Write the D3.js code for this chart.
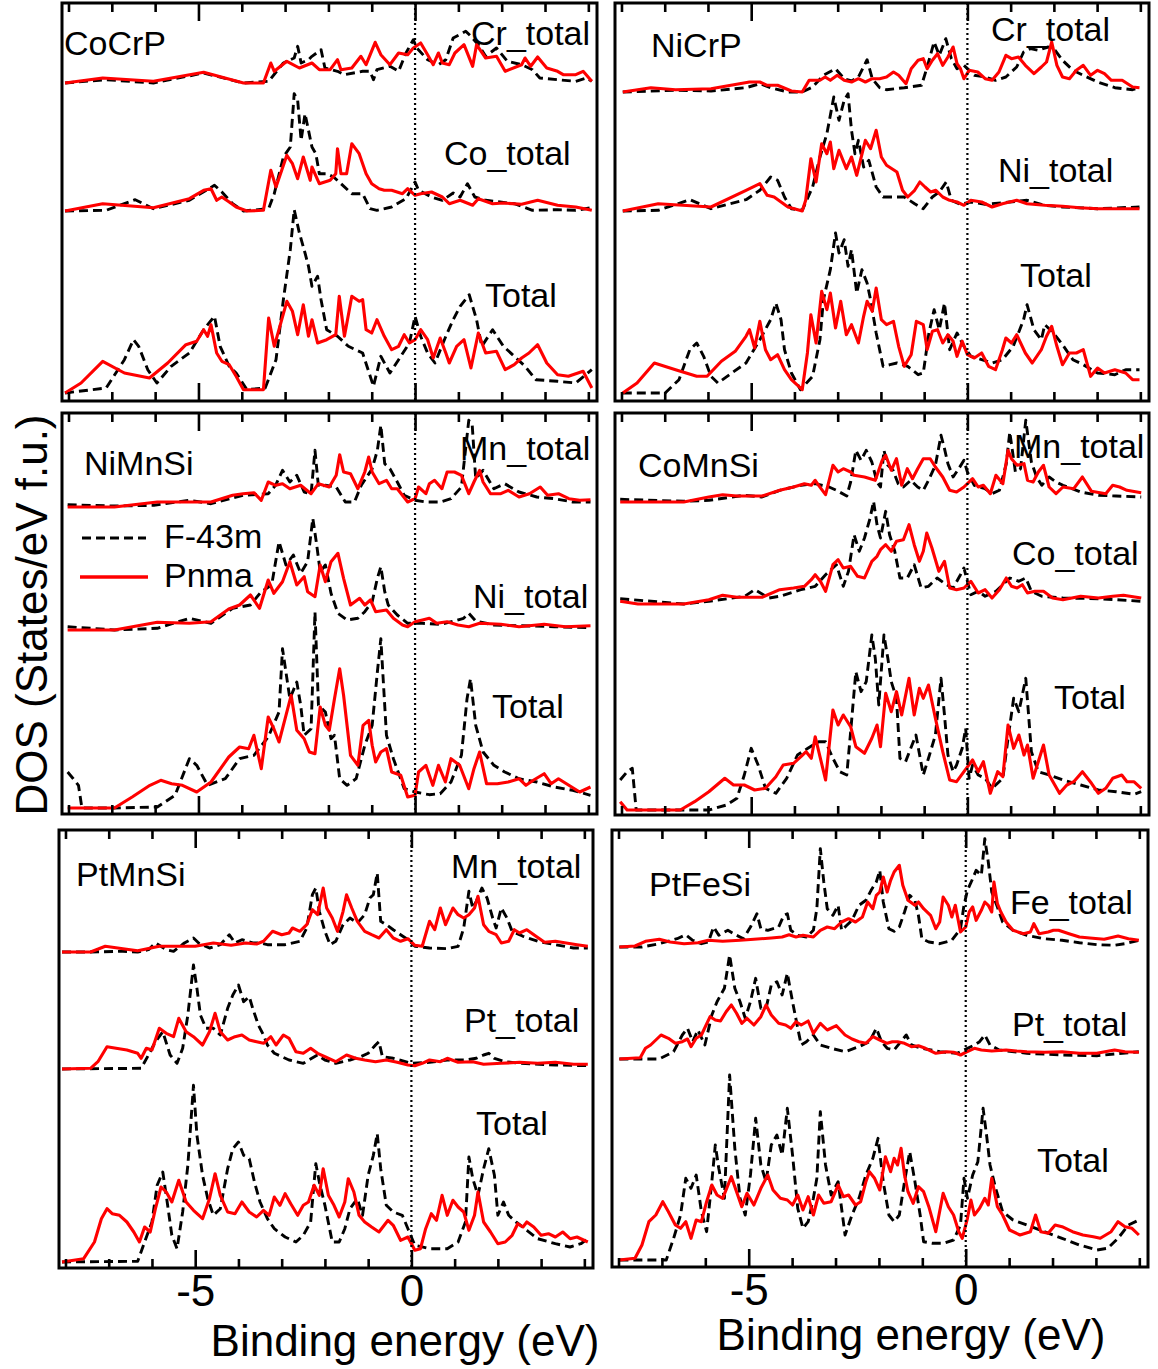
<!DOCTYPE html>
<html>
<head>
<meta charset="utf-8">
<script src="https://cdn.jsdelivr.net/npm/d3@7"></script>
<style>
  html, body { margin: 0; padding: 0; background: #fff; }
  svg { display: block; font-family: "Liberation Sans", Arial, Helvetica, sans-serif; }
</style>
</head>
<body>
<svg id="chart" width="1158" height="1369"></svg>
<script>
// ---------------------------------------------------------------
// Density of states, F-43m (cubic) vs Pnma (orthorhombic) phases.
// Each curve: [binding energy (eV), DOS (states/eV f.u.)] pairs.
// Curves are stacked inside a panel with the offsets listed below.
// ---------------------------------------------------------------
const seriesNames = ["F-43m", "Pnma"];
const energyTicks = [-8, -7, -6, -5, -4, -3, -2, -1, 0, 1, 2, 3, 4];
const energyTickLabels = [-5, 0];
const compounds = ["CoCrP", "NiCrP", "NiMnSi", "CoMnSi", "PtMnSi", "PtFeSi"];

// ---- CoCrP ----
const cocrpLabels = ["Cr_total", "Co_total", "Total"];
const cocrpOffsets = [31.8, 19.0, 0.8];
const cocrp_cr_f = [[-8.08,0],[-7.13,0.33],[-6.04,0],[-4.88,1.0],[-3.96,0],[-3.38,0.17],[-3.04,2.0],[-2.79,2.5],[-2.71,3.67],[-2.63,2.0],[-2.46,2.33],[-2.38,2.67],[-2.17,3.33],[-2.08,1.5],[-1.79,1.17],[-1.63,0.83],[-1.21,1.17],[-1.04,1.17],[-0.96,0.33],[-0.88,1.33],[-0.58,1.67],[-0.38,1.17],[-0.21,3.0],[-0.04,4.33],[0.04,3.5],[0.29,2.33],[0.54,1.83],[0.71,2.33],[0.88,4.5],[1.17,5.17],[1.29,4.67],[1.46,3.83],[1.63,2.67],[1.88,3.5],[2.13,2.17],[2.46,1.83],[2.71,1.33],[2.88,0.5],[3.29,0.33],[3.71,0.17],[3.96,0.5],[4.08,0.17]];
const cocrp_cr_p = [[-8.08,0],[-7.21,0.5],[-6.04,0.17],[-4.88,1.07],[-3.96,0],[-3.5,0],[-3.33,2.0],[-3.25,1.17],[-2.96,2.17],[-2.67,1.5],[-2.38,2.0],[-2.21,1.33],[-1.96,1.33],[-1.79,2.33],[-1.71,1.33],[-1.46,1.5],[-1.25,2.67],[-1.13,1.83],[-0.92,4.07],[-0.79,2.83],[-0.58,1.83],[-0.38,3.0],[-0.17,2.83],[-0.04,3.5],[0.13,4.0],[0.29,2.83],[0.42,1.83],[0.54,3.0],[0.63,2.0],[0.79,1.83],[0.92,3.0],[1.13,3.83],[1.33,1.67],[1.42,3.83],[1.63,2.5],[1.88,2.67],[2.08,1.17],[2.46,1.83],[2.54,2.5],[2.67,1.67],[2.83,2.6],[3.04,1.5],[3.29,1.17],[3.42,0.83],[3.71,0.83],[3.88,1.17],[4.08,0.17]];
const cocrp_co_f = [[-8.08,0],[-7.13,0.07],[-6.46,1.13],[-6.04,0.23],[-5.21,1.07],[-4.63,2.57],[-4.46,1.9],[-4.21,0.73],[-3.96,0],[-3.38,0.23],[-3.25,1.73],[-3.04,5.4],[-2.88,6.4],[-2.79,11.73],[-2.71,11.07],[-2.63,7.07],[-2.54,9.73],[-2.46,8.07],[-2.38,6.4],[-2.29,5.73],[-2.21,3.73],[-2.04,3.73],[-1.88,3.4],[-1.71,2.73],[-1.46,1.73],[-1.21,1.73],[-1.04,0.23],[-0.88,0.07],[-0.54,0.4],[-0.21,1.23],[0,2.9],[0.08,2.07],[0.38,1.4],[0.63,1.07],[0.88,1.8],[1.04,1.4],[1.21,2.73],[1.38,1.4],[1.63,1.07],[1.96,0.9],[2.29,0.73],[2.71,0.07],[3.29,0.13],[3.71,0.07],[4.08,0.33]];
const cocrp_co_p = [[-8.08,0],[-7.21,0.73],[-6.04,0.33],[-5.21,1.23],[-4.88,2.07],[-4.71,2.23],[-4.58,1.07],[-4.46,1.4],[-4.29,0.9],[-4.13,0.4],[-3.88,0],[-3.5,0.07],[-3.33,4.07],[-3.21,2.4],[-2.96,5.57],[-2.83,4.73],[-2.71,3.23],[-2.58,5.4],[-2.42,3.07],[-2.38,4.4],[-2.21,2.73],[-1.96,3.07],[-1.83,3.73],[-1.79,6.23],[-1.71,3.73],[-1.58,3.73],[-1.46,6.73],[-1.29,5.73],[-1.13,3.73],[-1.0,2.73],[-0.83,2.23],[-0.71,2.07],[-0.54,2.07],[-0.29,1.73],[-0.17,2.23],[0,1.57],[0.13,1.73],[0.38,1.9],[0.63,1.4],[0.79,0.73],[1.04,1.07],[1.33,0.57],[1.46,1.23],[1.79,0.73],[2.04,0.8],[2.46,0.67],[2.83,1.07],[3.29,0.57],[3.71,0.4],[4.08,0.07]];
const cocrp_tot_f = [[-8.08,0],[-7.13,0.5],[-6.71,3.33],[-6.5,5.33],[-6.38,4.67],[-6.17,2.33],[-5.96,1.0],[-5.63,2.67],[-5.21,4.0],[-4.88,6.33],[-4.63,7.67],[-4.5,4.67],[-4.29,2.67],[-4.13,2.0],[-3.88,0.33],[-3.46,0.5],[-3.21,3.33],[-3.04,9.33],[-2.88,14.33],[-2.79,18.33],[-2.67,16.0],[-2.54,14.0],[-2.46,12.67],[-2.38,10.67],[-2.25,11.67],[-2.17,9.33],[-2.04,6.33],[-1.79,5.67],[-1.54,4.67],[-1.21,4.0],[-0.96,0.67],[-0.79,3.67],[-0.58,2.0],[-0.38,3.33],[-0.13,5.0],[0,7.67],[0.13,5.67],[0.29,4.0],[0.46,3.0],[0.71,5.67],[0.88,7.33],[1.04,8.67],[1.25,9.83],[1.42,7.33],[1.54,4.67],[1.79,6.33],[2.04,4.67],[2.29,3.67],[2.54,2.67],[2.79,1.33],[3.29,1.17],[3.71,1.0],[4.08,2.33]];
const cocrp_tot_p = [[-8.08,0],[-7.71,1.0],[-7.21,3.17],[-6.71,2.0],[-6.13,1.5],[-5.71,3.0],[-5.29,4.83],[-5.04,5.17],[-4.88,6.33],[-4.79,5.67],[-4.71,6.83],[-4.58,4.0],[-4.46,3.17],[-4.29,2.83],[-4.13,1.67],[-3.96,0.33],[-3.5,0.33],[-3.38,7.5],[-3.25,4.67],[-2.96,9.17],[-2.83,8.17],[-2.71,5.83],[-2.58,8.83],[-2.46,5.67],[-2.38,7.33],[-2.25,5.0],[-2.04,5.33],[-1.83,5.83],[-1.75,9.67],[-1.63,5.67],[-1.46,9.67],[-1.29,9.17],[-1.21,9.33],[-1.13,6.33],[-1.0,6.0],[-0.88,7.33],[-0.71,5.67],[-0.54,4.33],[-0.38,4.67],[-0.25,5.83],[-0.13,5.0],[0,5.33],[0.13,6.33],[0.29,5.33],[0.42,3.5],[0.58,5.5],[0.71,4.0],[0.79,3.0],[0.96,4.67],[1.13,5.33],[1.29,2.5],[1.46,6.0],[1.63,4.0],[1.88,4.17],[2.08,2.33],[2.29,2.83],[2.46,3.5],[2.63,4.0],[2.83,4.83],[3.04,3.0],[3.29,1.83],[3.54,1.67],[3.88,2.17],[4.08,0.5]];

// ---- NiCrP ----
const nicrpLabels = ["Cr_total", "Ni_total", "Total"];
const nicrpOffsets = [30.9, 19.0, 0.8];
const nicrp_cr_f = [[-7.97,0],[-6.75,0.17],[-5.93,0.1],[-5.12,0.43],[-4.8,0.83],[-4.55,0.43],[-4.15,0],[-3.82,0],[-3.58,0.5],[-3.33,1.67],[-3.05,2.33],[-2.85,1.33],[-2.68,1.1],[-2.52,1.5],[-2.32,3.23],[-2.2,1.33],[-2.03,0.43],[-1.87,0.23],[-1.46,0.43],[-1.06,0.67],[-0.93,2.5],[-0.77,5.0],[-0.65,3.67],[-0.5,5.33],[-0.37,3.33],[-0.24,2.33],[-0.08,2.67],[0.16,1.67],[0.41,1.5],[0.65,1.17],[0.89,1.5],[1.14,2.5],[1.3,4.0],[1.46,4.33],[1.63,4.17],[1.87,4.5],[2.03,4.17],[2.2,3.17],[2.44,2.17],[2.68,1.67],[3.01,1.0],[3.41,0.43],[3.82,0.23],[3.98,0.43]];
const nicrp_cr_p = [[-7.97,0],[-7.32,0.43],[-6.75,0.23],[-5.93,0.33],[-5.04,1.0],[-4.8,1.0],[-4.63,0.67],[-4.39,0.67],[-4.07,0.1],[-3.82,0],[-3.66,1.17],[-3.41,1.17],[-3.29,1.5],[-3.17,1.17],[-3.01,1.67],[-2.85,1.17],[-2.68,1.0],[-2.52,1.33],[-2.36,1.0],[-2.2,1.33],[-2.03,1.33],[-1.87,1.5],[-1.71,2.0],[-1.59,1.67],[-1.42,0.83],[-1.3,2.33],[-1.14,3.17],[-1.02,3.33],[-0.93,2.33],[-0.81,3.17],[-0.69,3.83],[-0.57,2.67],[-0.45,3.5],[-0.33,4.5],[-0.24,2.83],[-0.16,2.33],[-0.08,1.33],[0.04,2.17],[0.24,2.0],[0.41,1.33],[0.57,1.17],[0.73,2.0],[0.89,3.67],[1.02,3.33],[1.18,3.5],[1.34,2.67],[1.54,1.83],[1.71,2.5],[1.83,3.0],[1.95,5.0],[2.07,2.67],[2.2,1.5],[2.36,1.33],[2.52,2.17],[2.68,2.67],[2.85,1.67],[3.01,2.17],[3.17,1.83],[3.33,1.17],[3.58,1.17],[3.82,0.5],[3.98,0.43]];
const nicrp_ni_f = [[-7.97,0],[-7.15,0.07],[-6.42,1.13],[-5.93,0.23],[-5.12,1.13],[-4.8,2.07],[-4.55,3.4],[-4.39,3.07],[-4.23,1.4],[-4.07,0.23],[-3.82,0.07],[-3.58,2.4],[-3.41,5.4],[-3.25,7.73],[-3.09,11.4],[-2.97,9.07],[-2.85,11.07],[-2.76,11.73],[-2.68,8.07],[-2.6,5.73],[-2.52,7.07],[-2.4,4.4],[-2.28,5.07],[-2.11,2.4],[-1.95,1.4],[-1.71,1.4],[-1.46,1.4],[-1.22,0.73],[-1.02,0.23],[-0.81,1.4],[-0.65,1.9],[-0.49,2.9],[-0.37,1.07],[-0.16,0.67],[0.08,0.9],[0.41,0.67],[0.98,0.9],[1.38,1.07],[1.79,0.57],[2.2,0.4],[3.01,0.23],[3.98,0.4]];
const nicrp_ni_p = [[-7.97,0],[-7.15,0.73],[-5.93,0.4],[-5.12,2.07],[-4.8,2.73],[-4.63,1.57],[-4.47,1.4],[-4.15,0.4],[-3.82,0],[-3.74,1.07],[-3.62,5.23],[-3.5,2.9],[-3.37,6.73],[-3.25,5.73],[-3.17,6.9],[-3.09,4.23],[-2.97,6.07],[-2.8,4.23],[-2.68,5.4],[-2.56,3.57],[-2.36,7.07],[-2.24,6.23],[-2.11,8.07],[-1.99,5.4],[-1.87,4.57],[-1.63,3.9],[-1.5,2.07],[-1.38,1.4],[-1.22,2.07],[-1.1,2.9],[-0.98,2.4],[-0.85,1.9],[-0.73,2.07],[-0.57,1.4],[-0.41,1.07],[-0.24,0.9],[-0.08,0.57],[0.08,1.07],[0.33,0.9],[0.57,0.4],[0.81,0.73],[1.14,1.07],[1.38,0.73],[1.79,0.57],[2.2,0.47],[2.6,0.33],[3.01,0.23],[3.5,0.23],[3.98,0.23]];
const nicrp_tot_f = [[-7.97,0],[-6.99,0],[-6.67,1.33],[-6.42,4.33],[-6.26,5.0],[-6.1,3.67],[-5.93,1.67],[-5.77,1.0],[-5.45,2.0],[-5.12,3.0],[-4.8,5.33],[-4.55,7.33],[-4.43,9.0],[-4.31,7.33],[-4.23,4.33],[-4.07,2.0],[-3.86,0.33],[-3.58,1.67],[-3.41,5.33],[-3.33,9.33],[-3.17,12.33],[-3.05,16.0],[-2.97,14.0],[-2.85,15.33],[-2.76,12.67],[-2.68,14.33],[-2.56,10.0],[-2.44,12.33],[-2.32,11.0],[-2.24,9.33],[-2.11,6.0],[-1.95,2.67],[-1.79,2.83],[-1.63,3.0],[-1.38,2.67],[-1.14,1.83],[-1.02,2.0],[-0.89,6.0],[-0.77,8.33],[-0.65,6.33],[-0.53,9.0],[-0.41,4.33],[-0.24,6.0],[-0.08,4.67],[0.08,3.67],[0.33,3.33],[0.57,3.0],[0.81,3.33],[1.06,4.67],[1.3,7.33],[1.38,8.83],[1.54,6.33],[1.71,5.33],[1.79,6.83],[1.99,6.0],[2.2,4.83],[2.44,3.33],[2.68,2.83],[3.01,2.0],[3.41,1.83],[3.66,2.33],[3.98,2.33]];
const nicrp_tot_p = [[-7.97,0],[-7.64,1.0],[-7.24,3.0],[-6.75,2.33],[-6.26,1.67],[-6.02,1.67],[-5.69,3.17],[-5.37,4.17],[-5.12,5.67],[-5.04,6.33],[-4.92,4.5],[-4.8,7.17],[-4.67,4.33],[-4.55,3.33],[-4.39,3.83],[-4.23,2.33],[-4.07,1.33],[-3.82,0.33],[-3.7,4.0],[-3.62,7.83],[-3.5,5.0],[-3.37,10.17],[-3.25,8.33],[-3.17,10.0],[-3.05,6.5],[-2.93,9.17],[-2.8,5.83],[-2.68,6.83],[-2.52,5.0],[-2.4,7.67],[-2.32,9.17],[-2.2,8.17],[-2.11,10.5],[-1.99,7.33],[-1.87,6.83],[-1.71,7.17],[-1.59,4.67],[-1.46,2.67],[-1.3,3.83],[-1.18,7.17],[-1.02,6.83],[-0.93,4.33],[-0.81,6.17],[-0.69,6.33],[-0.57,5.0],[-0.45,5.83],[-0.33,5.17],[-0.24,3.67],[-0.12,5.17],[0,3.83],[0.16,3.5],[0.33,4.0],[0.49,2.67],[0.65,2.33],[0.81,4.33],[0.89,5.5],[1.02,5.0],[1.14,5.83],[1.34,4.0],[1.5,3.0],[1.71,4.33],[1.83,5.67],[1.95,6.67],[2.07,4.67],[2.2,2.83],[2.36,4.0],[2.52,4.0],[2.68,4.33],[2.85,1.67],[3.01,2.5],[3.17,2.0],[3.41,2.33],[3.66,2.0],[3.82,1.33],[3.98,1.33]];

// ---- NiMnSi ----
const nimnsiLabels = ["Mn_total", "Ni_total", "Total"];
const nimnsiOffsets = [30.7, 18.4, 0.6];
const nimnsi_mn_f = [[-8.02,0.23],[-6.94,0.1],[-6.03,0.17],[-5.21,0.67],[-4.71,0.33],[-3.97,1.17],[-3.39,1.33],[-3.22,2.17],[-3.06,3.67],[-2.89,2.5],[-2.73,3.17],[-2.56,1.5],[-2.4,1.33],[-2.31,5.67],[-2.23,2.0],[-2.07,2.17],[-1.82,2.0],[-1.61,0.5],[-1.4,0.5],[-1.24,2.17],[-0.99,3.83],[-0.87,5.67],[-0.79,8.17],[-0.7,4.33],[-0.58,3.83],[-0.41,2.5],[-0.25,1.17],[0,0.67],[0.25,0.5],[0.58,0.5],[0.83,0.83],[1.07,2.0],[1.24,8.67],[1.32,8.17],[1.4,2.83],[1.57,3.67],[1.82,1.83],[2.07,2.33],[2.4,1.5],[2.81,1.0],[3.22,0.83],[3.64,0.5],[4.05,0.5]];
const nimnsi_mn_p = [[-8.02,0],[-6.94,0],[-5.95,0.5],[-5.21,0.5],[-4.71,0.5],[-4.21,1.17],[-3.97,1.33],[-3.72,1.43],[-3.55,0.67],[-3.39,2.5],[-3.22,2.17],[-3.06,2.33],[-2.89,1.83],[-2.64,2.17],[-2.4,1.33],[-2.23,2.33],[-1.98,2.0],[-1.82,3.17],[-1.74,5.23],[-1.65,3.5],[-1.49,3.33],[-1.32,1.83],[-1.16,3.5],[-1.07,5.0],[-0.99,3.5],[-0.83,2.33],[-0.66,2.67],[-0.54,1.83],[-0.41,1.83],[-0.17,0.5],[0,0.83],[0.08,2.0],[0.25,1.33],[0.33,2.33],[0.45,2.67],[0.62,1.83],[0.74,3.5],[0.91,3.5],[1.07,3.17],[1.24,1.33],[1.36,2.5],[1.49,3.67],[1.57,2.5],[1.74,1.33],[1.98,1.33],[2.15,1.67],[2.4,1.0],[2.64,1.33],[2.89,2.0],[3.06,1.17],[3.31,1.33],[3.55,0.83],[3.8,0.67],[4.05,0.73]];
const nimnsi_ni_f = [[-8.02,0.33],[-6.94,0],[-5.95,0.17],[-5.21,1.17],[-4.71,0.67],[-4.21,2.17],[-3.8,2.5],[-3.55,3.83],[-3.31,4.5],[-3.14,8.83],[-2.98,6.5],[-2.81,7.5],[-2.64,5.67],[-2.48,6.83],[-2.36,11.17],[-2.27,8.5],[-2.19,5.83],[-2.07,6.5],[-1.94,3.67],[-1.78,1.67],[-1.57,1.0],[-1.32,1.17],[-1.16,1.83],[-0.99,2.83],[-0.87,5.17],[-0.79,6.33],[-0.7,3.83],[-0.62,2.5],[-0.41,1.5],[-0.17,0.67],[0.17,0.67],[0.58,0.57],[0.91,0.9],[1.12,1.17],[1.24,1.67],[1.4,0.9],[1.82,0.5],[2.4,0.43],[3.22,0.33],[4.05,0.23]];
const nimnsi_ni_p = [[-8.02,0],[-6.94,0],[-5.95,0.77],[-5.21,0.67],[-4.71,0.83],[-4.3,2.1],[-4.05,2.5],[-3.8,3.5],[-3.59,2.17],[-3.39,5.0],[-3.26,3.67],[-3.06,4.83],[-2.89,6.83],[-2.73,4.5],[-2.56,5.33],[-2.48,3.83],[-2.31,3.33],[-2.19,6.5],[-2.07,4.83],[-1.94,6.83],[-1.78,7.67],[-1.65,5.17],[-1.49,2.5],[-1.28,3.17],[-1.16,2.5],[-1.03,3.0],[-0.91,1.83],[-0.66,2.0],[-0.5,1.17],[-0.29,0.5],[-0.17,0.33],[0,0.83],[0.17,1.0],[0.33,1.17],[0.5,0.67],[0.74,0.83],[0.99,0.5],[1.24,0.33],[1.49,0.67],[1.98,0.57],[2.4,0.33],[2.98,0.57],[3.47,0.33],[4.05,0.43]];
const nimnsi_tot_f = [[-8.02,3.6],[-7.89,2.93],[-7.77,2.27],[-7.69,0],[-6.94,0],[-5.95,0.1],[-5.54,1.27],[-5.21,4.93],[-5.04,4.27],[-4.79,2.27],[-4.38,2.93],[-4.05,4.93],[-3.72,5.27],[-3.39,7.1],[-3.14,9.6],[-3.06,15.93],[-2.89,10.93],[-2.73,12.6],[-2.64,10.27],[-2.56,7.27],[-2.4,7.93],[-2.31,19.6],[-2.23,10.27],[-2.07,9.6],[-1.94,6.93],[-1.86,7.27],[-1.74,2.93],[-1.57,2.27],[-1.36,2.93],[-1.16,6.27],[-0.99,8.27],[-0.87,13.6],[-0.79,16.93],[-0.66,7.27],[-0.5,4.93],[-0.25,1.93],[0,1.6],[0.33,1.33],[0.58,1.43],[0.83,2.6],[1.07,5.27],[1.2,10.93],[1.28,12.93],[1.4,8.27],[1.57,5.6],[1.82,4.27],[2.07,3.6],[2.4,2.93],[2.81,2.6],[3.22,2.1],[3.64,1.77],[4.05,1.27]];
const nimnsi_tot_p = [[-8.02,0],[-6.94,0],[-6.53,1.1],[-6.12,2.27],[-5.87,2.77],[-5.62,2.43],[-5.37,2.27],[-5.04,1.6],[-4.71,2.6],[-4.3,5.1],[-4.05,6.1],[-3.84,5.93],[-3.72,7.27],[-3.55,3.93],[-3.39,9.1],[-3.26,7.93],[-3.14,6.6],[-2.98,9.27],[-2.86,11.27],[-2.73,7.77],[-2.56,6.93],[-2.44,5.6],[-2.31,5.43],[-2.19,10.1],[-2.07,8.27],[-1.98,7.77],[-1.86,10.93],[-1.74,13.93],[-1.65,11.27],[-1.49,5.27],[-1.32,4.27],[-1.2,8.27],[-1.07,8.77],[-0.99,6.27],[-0.91,4.6],[-0.79,5.6],[-0.66,5.93],[-0.54,3.6],[-0.33,3.27],[-0.17,1.1],[0,1.27],[0.08,3.6],[0.25,4.27],[0.41,2.27],[0.54,4.27],[0.7,2.6],[0.83,4.93],[1.03,4.27],[1.24,1.93],[1.36,3.93],[1.49,5.6],[1.65,2.43],[1.9,2.43],[2.15,2.6],[2.4,2.93],[2.56,2.27],[2.73,2.77],[2.98,3.43],[3.14,2.43],[3.31,2.93],[3.55,2.27],[3.8,1.6],[4.05,2.1]];

// ---- CoMnSi ----
const comnsiLabels = ["Mn_total", "Co_total", "Total"];
const comnsiOffsets = [31.3, 21.1, 0.5];
const comnsi_mn_f = [[-8.03,0.27],[-6.56,0.07],[-5.98,0.17],[-5.16,0.67],[-4.75,0.5],[-4.34,1.17],[-3.85,1.67],[-3.52,1.83],[-3.2,1.5],[-3.03,1.17],[-2.79,0.6],[-2.7,2.0],[-2.58,5.17],[-2.46,4.17],[-2.34,5.17],[-2.21,4.0],[-2.09,2.0],[-2.01,1.5],[-1.93,5.17],[-1.84,3.67],[-1.72,3.17],[-1.6,1.83],[-1.48,1.5],[-1.31,2.17],[-1.15,1.5],[-1.02,1.17],[-0.9,2.17],[-0.74,3.67],[-0.61,6.67],[-0.53,5.33],[-0.45,3.83],[-0.33,2.5],[-0.2,3.33],[-0.08,4.17],[0,3.0],[0.16,1.67],[0.41,1.33],[0.57,0.83],[0.74,1.17],[0.9,3.83],[0.98,7.0],[1.11,3.0],[1.23,3.33],[1.35,8.17],[1.48,4.0],[1.6,2.5],[1.72,1.67],[1.89,2.5],[2.05,2.0],[2.21,1.67],[2.62,1.0],[3.03,0.67],[3.44,0.6],[4.02,0.5]];
const comnsi_mn_p = [[-8.03,0],[-6.56,0],[-5.98,0.5],[-5.66,0.73],[-5.33,0.6],[-4.75,0.6],[-4.34,1.17],[-4.02,1.5],[-3.77,1.83],[-3.61,1.67],[-3.52,2.17],[-3.44,1.67],[-3.28,0.73],[-3.11,3.67],[-2.99,3.0],[-2.87,3.33],[-2.7,3.0],[-2.62,2.67],[-2.38,2.5],[-2.13,2.17],[-1.97,4.17],[-1.89,4.67],[-1.76,3.17],[-1.64,4.33],[-1.52,1.67],[-1.39,3.33],[-1.27,2.33],[-1.15,3.33],[-1.02,4.33],[-0.86,4.33],[-0.74,3.5],[-0.57,2.5],[-0.41,1.17],[-0.25,1.0],[-0.08,1.5],[0.12,2.33],[0.25,1.5],[0.37,1.67],[0.53,0.83],[0.66,2.67],[0.82,1.83],[0.94,5.17],[1.02,4.33],[1.15,3.67],[1.31,3.83],[1.39,2.17],[1.52,2.0],[1.64,3.0],[1.76,3.67],[1.89,1.5],[2.05,0.83],[2.21,1.5],[2.46,1.33],[2.66,2.5],[2.87,1.07],[3.2,0.83],[3.36,1.67],[3.52,1.5],[3.69,1.17],[4.02,0.93]];
const comnsi_co_f = [[-8.03,0.53],[-6.56,0],[-5.98,0.27],[-5.15,0.77],[-4.92,1.43],[-4.59,0.6],[-4.34,0.77],[-3.85,1.43],[-3.52,1.77],[-3.28,2.93],[-3.03,3.93],[-2.87,1.77],[-2.75,3.27],[-2.62,6.93],[-2.5,5.27],[-2.38,6.6],[-2.25,8.6],[-2.17,10.27],[-2.09,7.93],[-2.01,6.6],[-1.89,9.27],[-1.8,6.93],[-1.68,5.27],[-1.56,2.6],[-1.39,2.6],[-1.23,3.93],[-1.07,1.6],[-0.9,1.77],[-0.7,2.6],[-0.49,1.93],[-0.33,1.6],[-0.16,2.93],[-0.08,3.6],[0.08,0.93],[0.25,1.27],[0.41,0.77],[0.66,1.27],[0.82,1.93],[0.98,2.6],[1.19,2.27],[1.35,2.6],[1.48,1.27],[1.72,0.77],[2.21,0.6],[3.03,0.53],[3.44,0.43],[4.02,0.27]];
const comnsi_co_p = [[-8.03,0.27],[-7.62,0],[-6.56,0],[-5.98,0.43],[-5.66,0.87],[-5.33,0.67],[-4.75,0.67],[-4.34,1.43],[-4.02,1.6],[-3.77,1.77],[-3.61,2.43],[-3.52,2.93],[-3.4,2.27],[-3.28,1.27],[-3.11,3.93],[-2.99,4.43],[-2.87,3.6],[-2.7,3.77],[-2.54,2.77],[-2.38,2.6],[-2.21,4.27],[-2.09,4.77],[-2.01,5.43],[-1.89,5.93],[-1.76,5.27],[-1.64,6.27],[-1.48,6.43],[-1.35,7.93],[-1.23,5.93],[-1.11,4.27],[-1.02,5.27],[-0.94,7.1],[-0.82,5.6],[-0.66,3.27],[-0.53,4.27],[-0.41,1.6],[-0.25,1.43],[-0.08,1.6],[0.08,2.27],[0.25,1.1],[0.41,1.43],[0.57,0.6],[0.74,1.43],[0.9,2.6],[1.02,1.77],[1.15,1.6],[1.27,1.93],[1.39,1.1],[1.56,1.27],[1.76,1.27],[1.97,0.6],[2.21,0.43],[2.62,0.77],[3.03,0.6],[3.36,0.77],[3.61,0.87],[4.02,0.6]];
const comnsi_tot_f = [[-8.03,3.0],[-7.87,3.83],[-7.75,4.17],[-7.66,0],[-6.64,0],[-5.98,0],[-5.57,0.5],[-5.33,1.17],[-5.16,3.5],[-5.0,6.17],[-4.84,4.5],[-4.67,2.17],[-4.43,1.67],[-4.18,3.17],[-3.93,5.5],[-3.69,6.17],[-3.44,6.83],[-3.28,6.83],[-3.11,5.17],[-2.95,3.83],[-2.79,3.5],[-2.7,7.83],[-2.58,13.83],[-2.46,11.83],[-2.34,12.83],[-2.21,17.5],[-2.13,15.17],[-2.05,10.5],[-1.93,17.5],[-1.84,15.17],[-1.76,12.83],[-1.64,11.17],[-1.56,5.17],[-1.43,4.83],[-1.31,6.17],[-1.19,7.5],[-1.02,3.5],[-0.9,5.17],[-0.74,7.5],[-0.61,13.17],[-0.53,9.5],[-0.45,5.5],[-0.33,3.83],[-0.25,4.5],[-0.12,6.17],[-0.04,8.17],[0.04,3.17],[0.12,4.5],[0.25,3.5],[0.41,3.17],[0.57,2.17],[0.82,3.17],[0.94,7.17],[1.07,11.17],[1.19,9.83],[1.35,13.17],[1.48,5.83],[1.64,3.83],[1.89,3.5],[2.21,3.0],[2.62,2.5],[3.03,2.0],[3.44,1.83],[3.85,1.57],[4.02,1.83]];
const comnsi_tot_p = [[-8.03,0.83],[-7.87,0],[-6.64,0],[-6.31,0.83],[-5.98,1.83],[-5.61,3.17],[-5.41,2.5],[-5.16,2.5],[-4.92,2.0],[-4.67,2.17],[-4.43,3.33],[-4.26,4.5],[-4.02,4.67],[-3.85,5.33],[-3.73,5.83],[-3.61,5.17],[-3.52,7.33],[-3.4,5.17],[-3.28,3.0],[-3.11,10.0],[-2.99,8.5],[-2.87,9.5],[-2.7,8.33],[-2.58,6.33],[-2.38,5.67],[-2.21,7.17],[-2.09,8.5],[-2.01,6.33],[-1.89,11.67],[-1.76,9.83],[-1.64,11.83],[-1.52,9.5],[-1.35,13.17],[-1.23,9.5],[-1.11,12.17],[-1.02,11.17],[-0.9,12.5],[-0.74,9.17],[-0.57,5.83],[-0.41,3.0],[-0.25,2.83],[-0.08,3.83],[0.12,5.0],[0.25,3.83],[0.37,4.83],[0.53,1.67],[0.7,3.83],[0.82,3.33],[0.94,8.5],[1.07,6.17],[1.19,7.5],[1.31,5.5],[1.39,6.5],[1.52,3.17],[1.76,6.5],[1.89,3.5],[2.13,1.67],[2.3,2.5],[2.46,2.83],[2.66,3.83],[2.87,2.67],[3.03,1.67],[3.2,2.17],[3.36,3.17],[3.57,3.5],[3.69,2.83],[3.85,2.83],[4.02,2.17]];

// ---- PtMnSi ----
const ptmnsiLabels = ["Mn_total", "Pt_total", "Total"];
const ptmnsiOffsets = [31.6, 19.9, 0.6];
const ptmnsi_mn_f = [[-8.08,0],[-7.42,0],[-6.67,0.07],[-6.33,0],[-6.08,0.23],[-5.92,0.9],[-5.67,0.23],[-5.5,0.07],[-5.25,0.9],[-5.04,1.4],[-4.92,0.9],[-4.67,0.4],[-4.42,0.73],[-4.21,1.73],[-4.08,0.9],[-3.92,1.23],[-3.67,0.9],[-3.5,0.9],[-3.33,0.73],[-2.92,0.73],[-2.58,1.07],[-2.42,2.4],[-2.29,5.73],[-2.21,6.4],[-2.13,4.07],[-2.0,2.07],[-1.88,0.73],[-1.75,1.07],[-1.58,2.73],[-1.42,3.4],[-1.25,2.9],[-1.08,3.73],[-0.96,5.4],[-0.88,5.73],[-0.79,7.9],[-0.71,3.07],[-0.58,2.73],[-0.42,2.23],[-0.25,1.73],[-0.08,1.23],[0.08,0.57],[0.42,0.4],[0.83,0.33],[1.08,0.57],[1.21,2.4],[1.33,6.07],[1.42,4.4],[1.5,5.07],[1.63,6.4],[1.75,5.4],[1.88,3.4],[1.96,2.4],[2.08,4.4],[2.21,3.4],[2.33,2.07],[2.58,1.57],[2.92,1.07],[3.33,0.73],[3.75,0.4],[4.08,0.4]];
const ptmnsi_mn_p = [[-8.08,0],[-7.42,0],[-7.08,0.57],[-6.67,0.33],[-6.33,0.13],[-5.83,0.57],[-5.42,0.57],[-5.0,0.57],[-4.58,0.9],[-4.17,0.67],[-3.83,0.9],[-3.58,0.8],[-3.42,1.07],[-3.21,2.07],[-3.0,1.73],[-2.83,1.9],[-2.75,2.4],[-2.58,2.07],[-2.42,2.73],[-2.29,4.23],[-2.17,3.73],[-2.04,6.4],[-1.96,4.4],[-1.83,3.4],[-1.71,2.07],[-1.58,4.07],[-1.5,5.73],[-1.38,4.4],[-1.25,3.07],[-1.08,2.07],[-0.92,1.73],[-0.75,1.4],[-0.58,2.23],[-0.42,1.4],[-0.25,1.07],[-0.08,1.33],[0.08,0.67],[0.25,0.57],[0.42,3.07],[0.54,2.23],[0.67,4.4],[0.79,2.73],[0.96,4.4],[1.08,3.73],[1.21,3.4],[1.33,3.73],[1.46,4.4],[1.54,5.57],[1.67,2.73],[1.79,2.07],[1.96,1.73],[2.08,0.9],[2.25,1.07],[2.38,2.23],[2.5,1.9],[2.67,2.23],[2.88,1.57],[3.08,0.97],[3.33,1.07],[3.58,0.9],[3.83,0.73],[4.08,0.57]];
const ptmnsi_pt_f = [[-8.08,0],[-6.25,0.07],[-6.08,1.4],[-5.92,2.73],[-5.75,3.73],[-5.58,1.4],[-5.42,0.57],[-5.29,2.07],[-5.17,5.4],[-5.04,10.4],[-4.96,8.07],[-4.88,5.4],[-4.75,4.07],[-4.58,4.07],[-4.42,3.4],[-4.25,6.07],[-4.13,7.4],[-4.0,8.4],[-3.88,6.73],[-3.75,7.23],[-3.67,6.07],[-3.54,4.4],[-3.42,3.4],[-3.33,2.4],[-3.17,1.57],[-2.83,0.9],[-2.5,0.57],[-2.17,1.4],[-2.0,0.9],[-1.75,0.57],[-1.42,0.9],[-1.17,1.23],[-1.0,1.57],[-0.83,2.4],[-0.75,2.73],[-0.67,1.23],[-0.42,1.07],[0,0.57],[0.42,0.67],[0.83,0.9],[1.25,0.9],[1.5,1.07],[1.67,1.4],[1.79,1.57],[1.92,1.07],[2.17,0.73],[2.5,0.57],[3.33,0.4],[4.08,0.33]];
const ptmnsi_pt_p = [[-8.08,0],[-7.42,0.07],[-7.25,0.73],[-7.04,2.23],[-6.83,2.07],[-6.58,1.9],[-6.33,1.57],[-6.25,1.07],[-6.13,2.07],[-6.0,1.9],[-5.83,4.07],[-5.67,3.57],[-5.5,3.23],[-5.38,5.07],[-5.21,3.73],[-5.04,3.23],[-4.83,2.4],[-4.67,3.73],[-4.54,5.57],[-4.42,3.73],[-4.25,2.9],[-4.08,3.23],[-3.92,3.4],[-3.75,2.9],[-3.58,2.73],[-3.42,2.57],[-3.25,3.23],[-3.13,2.4],[-2.96,3.4],[-2.83,3.07],[-2.67,1.73],[-2.5,1.57],[-2.33,2.07],[-2.17,1.57],[-2.0,1.23],[-1.75,0.73],[-1.5,1.4],[-1.29,1.07],[-1.08,0.9],[-0.83,0.73],[-0.58,0.9],[-0.33,0.67],[-0.08,0.4],[0.08,0.33],[0.25,0.57],[0.42,0.9],[0.67,0.73],[0.83,1.07],[1.08,0.67],[1.42,0.73],[1.67,0.47],[2.08,0.57],[2.5,0.67],[2.92,0.57],[3.33,0.67],[3.75,0.47],[4.08,0.47]];
const ptmnsi_tot_f = [[-8.08,0],[-6.33,0.07],[-6.17,2.0],[-6.0,4.0],[-5.88,7.67],[-5.75,9.0],[-5.67,6.67],[-5.54,2.67],[-5.42,1.33],[-5.29,5.0],[-5.17,9.67],[-5.04,17.67],[-4.96,12.67],[-4.83,8.67],[-4.71,6.33],[-4.58,4.67],[-4.42,5.33],[-4.25,9.33],[-4.13,11.33],[-4.0,12.0],[-3.88,10.67],[-3.75,10.33],[-3.63,8.0],[-3.5,6.0],[-3.33,4.33],[-3.17,3.33],[-2.92,2.5],[-2.67,2.0],[-2.5,2.67],[-2.33,4.0],[-2.25,8.0],[-2.21,9.83],[-2.13,8.0],[-2.0,5.67],[-1.83,2.0],[-1.67,2.0],[-1.54,3.33],[-1.42,5.33],[-1.25,6.33],[-1.13,4.67],[-1.0,8.67],[-0.88,10.67],[-0.79,12.83],[-0.71,9.33],[-0.58,5.67],[-0.42,5.0],[-0.21,4.67],[-0.08,3.33],[0.08,1.67],[0.42,1.33],[0.83,1.33],[1.08,2.0],[1.25,4.0],[1.33,10.5],[1.42,8.33],[1.54,6.67],[1.67,9.33],[1.79,11.33],[1.92,8.67],[2.0,4.67],[2.13,6.0],[2.25,4.67],[2.42,4.0],[2.67,3.17],[2.92,2.33],[3.33,1.83],[3.67,1.5],[3.92,1.83],[4.08,2.33]];
const ptmnsi_tot_p = [[-8.08,0],[-7.58,0.33],[-7.33,2.0],[-7.17,4.33],[-7.04,5.33],[-6.92,4.83],[-6.75,4.67],[-6.58,4.0],[-6.42,3.0],[-6.29,2.0],[-6.17,3.5],[-6.04,3.0],[-5.92,5.33],[-5.79,7.5],[-5.67,7.0],[-5.54,6.0],[-5.38,8.17],[-5.21,6.0],[-5.04,5.17],[-4.83,4.33],[-4.67,6.33],[-4.54,8.83],[-4.42,6.67],[-4.25,5.0],[-4.08,4.83],[-3.92,6.0],[-3.75,5.0],[-3.58,4.5],[-3.42,5.17],[-3.29,4.67],[-3.17,6.5],[-3.04,5.67],[-2.92,6.83],[-2.79,5.83],[-2.63,4.67],[-2.5,5.67],[-2.38,6.0],[-2.25,7.67],[-2.13,6.67],[-2.04,9.33],[-1.92,6.67],[-1.79,5.67],[-1.67,4.5],[-1.54,6.0],[-1.46,8.33],[-1.33,7.0],[-1.21,4.67],[-1.08,4.0],[-0.92,3.5],[-0.75,3.0],[-0.54,4.17],[-0.42,3.67],[-0.25,2.17],[-0.08,2.5],[0.08,1.17],[0.21,1.33],[0.33,3.33],[0.46,4.83],[0.58,4.17],[0.71,6.67],[0.83,4.67],[0.96,6.17],[1.08,5.5],[1.21,5.0],[1.33,3.17],[1.46,4.67],[1.54,7.0],[1.67,4.0],[1.83,3.0],[2.0,1.83],[2.17,2.0],[2.33,2.67],[2.46,3.83],[2.58,3.5],[2.67,4.0],[2.83,3.5],[3.0,2.67],[3.17,2.83],[3.33,2.5],[3.5,3.0],[3.67,2.33],[3.83,2.5],[4.08,2.0]];

// ---- PtFeSi ----
const ptfesiLabels = ["Fe_total", "Pt_total", "Total"];
const ptfesiOffsets = [32.0, 20.8, 0.7];
const ptfesi_fe_f = [[-7.98,0],[-7.46,0],[-7.06,0.33],[-6.65,0.83],[-6.45,1.23],[-6.29,0.67],[-6.09,0.33],[-5.93,0.5],[-5.81,2.0],[-5.69,1.17],[-5.48,1.67],[-5.28,1.17],[-5.12,0.83],[-4.96,2.0],[-4.81,3.33],[-4.72,1.83],[-4.56,1.67],[-4.31,2.0],[-4.19,3.17],[-4.11,3.33],[-4.03,1.67],[-3.87,1.17],[-3.67,1.0],[-3.51,1.67],[-3.43,3.83],[-3.35,9.83],[-3.27,6.5],[-3.19,3.83],[-3.06,3.17],[-2.94,4.17],[-2.86,1.67],[-2.74,2.17],[-2.62,2.67],[-2.46,4.17],[-2.3,4.67],[-2.18,5.67],[-2.06,6.5],[-1.98,7.67],[-1.9,4.5],[-1.77,1.83],[-1.65,1.57],[-1.53,2.0],[-1.41,3.5],[-1.29,5.17],[-1.17,4.67],[-1.09,3.17],[-1.01,0.83],[-0.85,0.5],[-0.6,0.33],[-0.32,0.67],[-0.12,1.83],[-0.04,4.17],[0.04,5.67],[0.16,6.83],[0.24,7.67],[0.36,7.17],[0.44,10.83],[0.52,8.5],[0.6,5.5],[0.73,4.0],[0.85,2.5],[1.09,1.67],[1.41,1.17],[1.81,0.83],[2.22,0.67],[2.62,0.43],[3.02,0.23],[3.43,0.17],[3.67,0.33],[3.99,0.67]];
const ptfesi_fe_p = [[-7.98,0],[-7.62,0.1],[-7.38,0.57],[-7.06,0.77],[-6.81,0.5],[-6.49,0.33],[-6.17,0.43],[-5.93,0.67],[-5.6,0.57],[-5.2,0.67],[-4.88,0.77],[-4.48,0.9],[-4.23,1.0],[-4.07,1.23],[-3.91,1.0],[-3.75,1.17],[-3.51,1.0],[-3.35,1.67],[-3.19,2.0],[-3.02,1.83],[-2.86,2.5],[-2.7,2.83],[-2.54,2.5],[-2.38,3.0],[-2.26,4.5],[-2.14,3.83],[-2.06,5.17],[-1.98,5.5],[-1.9,7.0],[-1.81,5.5],[-1.73,6.67],[-1.65,7.5],[-1.53,8.17],[-1.45,6.17],[-1.33,4.67],[-1.17,4.17],[-1.09,4.5],[-0.97,3.83],[-0.81,3.17],[-0.69,1.83],[-0.6,2.5],[-0.52,5.0],[-0.4,4.17],[-0.32,3.0],[-0.24,4.17],[-0.12,1.5],[0,2.0],[0.08,3.5],[0.16,4.0],[0.24,2.67],[0.36,3.67],[0.44,4.5],[0.52,4.17],[0.6,3.5],[0.65,6.5],[0.73,4.33],[0.81,3.5],[0.93,2.5],[1.09,1.67],[1.33,1.33],[1.49,1.5],[1.57,2.33],[1.69,1.33],[1.9,1.5],[2.02,1.67],[2.14,1.67],[2.38,1.33],[2.62,1.0],[2.86,0.9],[3.19,0.77],[3.51,1.1],[3.75,0.83],[3.99,0.67]];
const ptfesi_pt_f = [[-7.98,0],[-7.06,0],[-6.73,0.73],[-6.53,2.4],[-6.41,3.07],[-6.29,1.73],[-6.17,2.9],[-6.01,1.4],[-5.85,4.4],[-5.73,5.73],[-5.56,7.07],[-5.44,10.4],[-5.32,7.07],[-5.2,5.73],[-5.08,4.07],[-4.96,5.73],[-4.84,8.07],[-4.72,5.07],[-4.6,5.07],[-4.48,7.4],[-4.35,7.73],[-4.23,6.4],[-4.11,8.57],[-3.99,5.73],[-3.87,3.07],[-3.79,1.4],[-3.67,1.73],[-3.51,2.4],[-3.35,1.4],[-3.1,1.07],[-2.78,0.73],[-2.46,1.23],[-2.22,1.73],[-2.06,3.07],[-1.94,1.73],[-1.81,1.07],[-1.65,0.9],[-1.37,2.4],[-1.25,1.4],[-1.01,1.07],[-0.6,0.73],[-0.2,0.57],[-0.04,0.9],[0.2,1.4],[0.32,1.73],[0.44,2.4],[0.56,1.4],[0.77,0.9],[1.41,0.57],[2.22,0.4],[3.02,0.33],[3.99,0.73]];
const ptfesi_pt_p = [[-7.98,0],[-7.5,0.13],[-7.38,1.07],[-7.26,1.4],[-7.02,2.4],[-6.85,2.07],[-6.69,1.57],[-6.53,1.73],[-6.41,2.0],[-6.33,1.23],[-6.21,2.07],[-6.09,2.4],[-5.89,4.23],[-5.77,3.9],[-5.65,3.8],[-5.52,4.73],[-5.4,5.4],[-5.28,4.57],[-5.16,3.57],[-5.04,4.07],[-4.88,3.4],[-4.72,4.23],[-4.6,5.4],[-4.48,4.4],[-4.31,3.57],[-4.15,3.4],[-4.03,3.07],[-3.91,3.73],[-3.79,3.4],[-3.63,3.8],[-3.51,2.57],[-3.35,3.57],[-3.19,2.9],[-2.98,3.33],[-2.78,2.4],[-2.62,2.0],[-2.46,1.73],[-2.3,1.57],[-2.14,2.23],[-1.98,1.9],[-1.81,1.57],[-1.69,1.73],[-1.57,1.73],[-1.41,1.57],[-1.25,1.23],[-1.09,1.33],[-0.93,1.07],[-0.69,0.57],[-0.44,0.73],[-0.28,0.67],[-0.12,0.4],[0,0.67],[0.2,1.07],[0.36,0.9],[0.6,0.8],[0.93,0.9],[1.17,0.8],[1.41,0.73],[1.81,0.67],[2.22,0.73],[2.62,0.57],[3.02,0.57],[3.43,0.9],[3.67,0.73],[3.99,0.67]];
const ptfesi_tot_f = [[-7.98,0],[-6.9,0],[-6.73,2.17],[-6.57,4.5],[-6.45,8.17],[-6.33,7.17],[-6.21,8.5],[-6.09,4.83],[-5.97,2.83],[-5.85,7.83],[-5.77,11.5],[-5.69,9.17],[-5.56,6.17],[-5.44,18.5],[-5.32,11.17],[-5.2,6.17],[-5.08,4.5],[-4.96,8.5],[-4.84,14.17],[-4.72,9.5],[-4.6,7.83],[-4.48,11.5],[-4.35,12.5],[-4.23,10.5],[-4.11,15.17],[-3.99,10.5],[-3.87,5.17],[-3.75,3.17],[-3.63,3.83],[-3.51,6.17],[-3.43,8.17],[-3.35,14.83],[-3.23,9.5],[-3.1,6.5],[-2.94,7.83],[-2.78,2.5],[-2.62,4.5],[-2.46,6.17],[-2.3,8.5],[-2.14,10.17],[-2.02,12.17],[-1.9,7.83],[-1.77,4.5],[-1.65,3.83],[-1.53,4.5],[-1.41,7.83],[-1.29,10.83],[-1.17,7.83],[-1.05,4.5],[-0.97,1.83],[-0.77,1.67],[-0.52,1.67],[-0.28,2.0],[-0.12,3.5],[-0.04,8.17],[0.04,6.17],[0.16,8.5],[0.28,9.83],[0.4,15.17],[0.48,12.5],[0.56,9.5],[0.69,7.17],[0.85,4.83],[1.09,4.0],[1.41,3.5],[1.81,2.83],[2.22,2.17],[2.62,1.5],[3.02,1.0],[3.27,1.17],[3.51,2.17],[3.75,3.5],[3.99,4.0]];
const ptfesi_tot_p = [[-7.98,0],[-7.62,0.17],[-7.46,1.5],[-7.3,3.83],[-7.14,4.5],[-6.98,5.83],[-6.85,4.83],[-6.69,3.5],[-6.57,3.17],[-6.45,3.83],[-6.33,2.17],[-6.21,4.0],[-6.09,3.83],[-5.97,5.83],[-5.85,7.5],[-5.73,6.5],[-5.6,6.17],[-5.4,8.33],[-5.28,6.83],[-5.16,5.33],[-5.04,6.67],[-4.88,5.5],[-4.72,7.17],[-4.56,8.5],[-4.44,7.0],[-4.27,6.17],[-4.11,6.0],[-3.99,5.5],[-3.87,6.5],[-3.75,5.0],[-3.63,6.33],[-3.51,4.5],[-3.39,6.5],[-3.27,5.67],[-3.1,5.83],[-2.94,7.5],[-2.82,6.33],[-2.7,6.5],[-2.54,5.5],[-2.42,5.83],[-2.3,7.83],[-2.22,8.83],[-2.1,8.17],[-1.98,7.0],[-1.85,10.33],[-1.73,8.83],[-1.65,10.17],[-1.57,9.5],[-1.49,11.17],[-1.41,8.5],[-1.33,6.83],[-1.21,5.67],[-1.09,7.33],[-0.97,6.83],[-0.85,5.33],[-0.69,2.83],[-0.52,6.67],[-0.4,5.33],[-0.28,4.5],[-0.16,2.83],[-0.08,2.17],[0.04,4.17],[0.12,6.0],[0.2,4.5],[0.32,5.17],[0.44,6.17],[0.52,5.5],[0.6,8.17],[0.73,5.33],[0.85,4.5],[1.01,3.0],[1.25,2.5],[1.49,2.83],[1.61,4.5],[1.73,2.83],[1.9,2.67],[2.06,3.5],[2.22,3.33],[2.46,2.83],[2.7,2.5],[2.94,2.33],[3.1,2.17],[3.35,2.83],[3.51,3.83],[3.67,3.33],[3.83,3.17],[3.99,2.5]];

// ---------------------------------------------------------------
// Assemble panels: [F-43m curve, Pnma curve] per stacked component.
const panelData = [
  { labels: cocrpLabels,  offsets: cocrpOffsets,  curves: [[cocrp_cr_f, cocrp_cr_p], [cocrp_co_f, cocrp_co_p], [cocrp_tot_f, cocrp_tot_p]] },
  { labels: nicrpLabels,  offsets: nicrpOffsets,  curves: [[nicrp_cr_f, nicrp_cr_p], [nicrp_ni_f, nicrp_ni_p], [nicrp_tot_f, nicrp_tot_p]] },
  { labels: nimnsiLabels, offsets: nimnsiOffsets, curves: [[nimnsi_mn_f, nimnsi_mn_p], [nimnsi_ni_f, nimnsi_ni_p], [nimnsi_tot_f, nimnsi_tot_p]] },
  { labels: comnsiLabels, offsets: comnsiOffsets, curves: [[comnsi_mn_f, comnsi_mn_p], [comnsi_co_f, comnsi_co_p], [comnsi_tot_f, comnsi_tot_p]] },
  { labels: ptmnsiLabels, offsets: ptmnsiOffsets, curves: [[ptmnsi_mn_f, ptmnsi_mn_p], [ptmnsi_pt_f, ptmnsi_pt_p], [ptmnsi_tot_f, ptmnsi_tot_p]] },
  { labels: ptfesiLabels, offsets: ptfesiOffsets, curves: [[ptfesi_fe_f, ptfesi_fe_p], [ptfesi_pt_f, ptfesi_pt_p], [ptfesi_tot_f, ptfesi_tot_p]] }
];

// Panel frames (px) and text anchor points
const frames = [
  { x0: 62,  y0: 3,   x1: 597,  y1: 401,  title: [64, 55],   text: [[471, 45],  [444, 165],  [485, 307]] },
  { x0: 615, y0: 3,   x1: 1149, y1: 401,  title: [651, 57],  text: [[991, 41],  [998, 182],  [1020, 287]] },
  { x0: 62,  y0: 413, x1: 597,  y1: 814,  title: [84, 475],  text: [[460, 460], [473, 608],  [492, 718]] },
  { x0: 615, y0: 413, x1: 1149, y1: 815,  title: [638, 477], text: [[1014, 458],[1012, 565], [1054, 709]] },
  { x0: 59,  y0: 830, x1: 593,  y1: 1268, title: [76, 886],  text: [[451, 878], [464, 1032], [476, 1135]] },
  { x0: 612, y0: 830, x1: 1148, y1: 1267, title: [649, 896], text: [[1010, 914],[1012, 1036],[1037, 1172]] }
];

const xDomain = [-8.15, 4.2];
const unitPx = 10;            // vertical pixels per DOS unit
const seriesStyle = {
  "F-43m": { stroke: "#000000", width: 2.9, dash: "9,5" },
  "Pnma":  { stroke: "#ff0000", width: 3.1, dash: null }
};
const fontLabel = 34;

const svg = d3.select("#chart");
const defs = svg.append("defs");

panelData.forEach((panel, i) => {
  const f = frames[i];
  const x = d3.scaleLinear().domain(xDomain).range([f.x0, f.x1]);
  const y = d3.scaleLinear().domain([0, (f.y1 - f.y0) / unitPx]).range([f.y1, f.y0]);
  const g = svg.append("g").attr("class", "panel");

  defs.append("clipPath").attr("id", "clip" + i)
    .append("rect").attr("x", f.x0).attr("y", f.y0)
    .attr("width", f.x1 - f.x0).attr("height", f.y1 - f.y0);

  const plot = g.append("g").attr("clip-path", `url(#clip${i})`);

  panel.curves.forEach((pair, k) => {
    const off = panel.offsets[k];
    const line = d3.line().x(d => x(d[0])).y(d => y(off + d[1]));
    seriesNames.forEach((s, si) => {
      const st = seriesStyle[s];
      plot.append("path")
        .datum(pair[si])
        .attr("d", line)
        .attr("fill", "none")
        .attr("stroke", st.stroke)
        .attr("stroke-width", st.width)
        .attr("stroke-linejoin", "round")
        .attr("stroke-dasharray", st.dash);
    });
  });

  // Fermi level
  g.append("line")
    .attr("x1", x(0)).attr("x2", x(0))
    .attr("y1", f.y0).attr("y2", f.y1)
    .attr("stroke", "#000").attr("stroke-width", 2.2)
    .attr("stroke-dasharray", "2,3");

  // inward ticks on top and bottom edges
  const minor = energyTicks.filter(t => t % 5 !== 0);
  const major = energyTicks.filter(t => t % 5 === 0);
  [[minor, 9], [major, 18]].forEach(([vals, len]) => {
    const bottom = g.append("g").attr("transform", `translate(0,${f.y1})`)
      .call(d3.axisBottom(x).tickValues(vals).tickSize(-len).tickFormat(""));
    const top = g.append("g").attr("transform", `translate(0,${f.y0})`)
      .call(d3.axisTop(x).tickValues(vals).tickSize(-len).tickFormat(""));
    [bottom, top].forEach(a => {
      a.select(".domain").remove();
      a.selectAll(".tick line").attr("stroke", "#000").attr("stroke-width", 2.6);
    });
  });

  // frame
  g.append("rect")
    .attr("x", f.x0).attr("y", f.y0)
    .attr("width", f.x1 - f.x0).attr("height", f.y1 - f.y0)
    .attr("fill", "none").attr("stroke", "#000").attr("stroke-width", 3);

  // compound name and component labels
  g.append("text").attr("x", f.title[0]).attr("y", f.title[1])
    .attr("font-size", fontLabel).attr("fill", "#000").text(compounds[i]);
  panel.labels.forEach((lab, k) => {
    g.append("text").attr("x", f.text[k][0]).attr("y", f.text[k][1])
      .attr("font-size", fontLabel).attr("fill", "#000").text(lab);
  });

  // energy tick labels under the bottom row
  if (i >= 4) {
    const ax = g.append("g").attr("transform", `translate(0,${f.y1})`)
      .call(d3.axisBottom(x).tickValues(energyTickLabels).tickSize(0).tickPadding(7)
        .tickFormat(d => String(d)));
    ax.select(".domain").remove();
    ax.selectAll("text").attr("font-size", 44)
      .attr("font-family", '"Liberation Sans", Arial, sans-serif').attr("fill", "#000");
  }
});

// legend (inside the NiMnSi panel)
const legendRows = [
  { s: seriesNames[0], x1: 82, x2: 146, y: 538, ty: 548 },
  { s: seriesNames[1], x1: 80, x2: 148, y: 577, ty: 587 }
];
legendRows.forEach(r => {
  const st = seriesStyle[r.s];
  svg.append("line").attr("x1", r.x1).attr("x2", r.x2).attr("y1", r.y).attr("y2", r.y)
    .attr("stroke", st.stroke).attr("stroke-width", st.width + 0.3)
    .attr("stroke-dasharray", st.dash);
  svg.append("text").attr("x", 164).attr("y", r.ty)
    .attr("font-size", fontLabel).attr("fill", "#000").text(r.s);
});

// axis titles
svg.append("text").attr("x", 405).attr("y", 1356).attr("text-anchor", "middle")
  .attr("font-size", 44).attr("fill", "#000").text("Binding energy (eV)");
svg.append("text").attr("x", 911).attr("y", 1350).attr("text-anchor", "middle")
  .attr("font-size", 44).attr("fill", "#000").text("Binding energy (eV)");
svg.append("text")
  .attr("transform", "translate(47,615) rotate(-90)")
  .attr("text-anchor", "middle")
  .attr("font-size", 44).attr("fill", "#000").text("DOS (States/eV f.u.)");
</script>
</body>
</html>
